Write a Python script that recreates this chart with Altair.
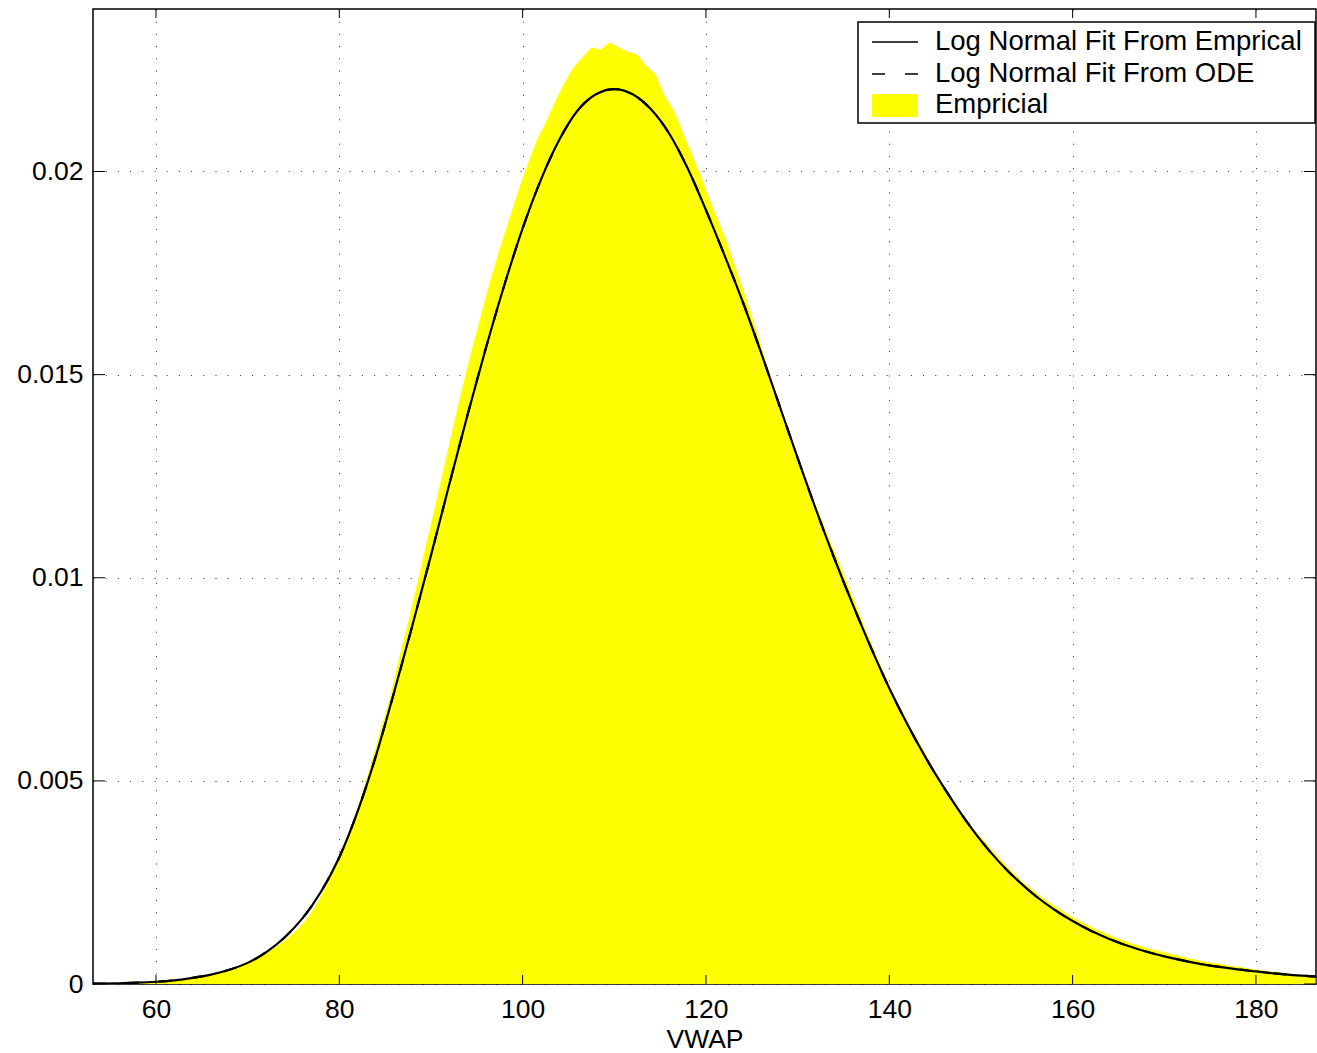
import altair as alt
import pandas as pd

# ---- data ----
fit_x = [53.13, 54, 56, 58, 60, 62, 64, 66, 68, 70, 72, 74, 76, 78, 80, 82, 84, 86, 88, 90,
         92, 94, 96, 98, 100, 102, 104, 106, 108, 110, 112, 114, 116, 118, 120, 122, 124, 126,
         128, 130, 132, 134, 136, 138, 140, 142, 144, 146, 148, 150, 152, 154, 156, 158, 160,
         162, 164, 166, 168, 170, 172, 174, 176, 178, 180, 182, 184, 186, 186.55]
fit_y = [0.000008, 0.00001, 0.000018, 0.000032, 0.000055, 0.00009, 0.00015, 0.00023, 0.00035,
         0.00052, 0.00078, 0.00114, 0.00162, 0.00227, 0.00312, 0.00425, 0.00562, 0.00720,
         0.00885, 0.01055, 0.01230, 0.01402, 0.01566, 0.01720, 0.01860, 0.01980, 0.02078,
         0.02150, 0.02190, 0.02203, 0.02190, 0.02153, 0.02093, 0.02008, 0.01905, 0.01795,
         0.01680, 0.01555, 0.01425, 0.01295, 0.01168, 0.01048, 0.00935, 0.00828, 0.00728,
         0.00638, 0.00556, 0.00482, 0.00414, 0.00353, 0.00300, 0.00255, 0.00216, 0.00183,
         0.00155, 0.00131, 0.00111, 0.00094, 0.00080, 0.00068, 0.00058, 0.00049, 0.00042,
         0.00036, 0.00031, 0.00026, 0.00022, 0.00019, 0.00018]
ode_y = list(fit_y)

hist_start = list(range(53, 187))
hist_y = [0.00001, 0.00001, 0.00001, 0.00002, 0.00003, 0.00004, 0.00005, 0.00006, 0.00008,
          0.00010, 0.00013, 0.00016, 0.00020, 0.00025, 0.00031, 0.00039, 0.00047, 0.00057,
          0.00069, 0.00083, 0.00098, 0.00116, 0.00136, 0.00162, 0.00195, 0.00238, 0.00285,
          0.00340, 0.00400, 0.00468, 0.00545, 0.00625, 0.00702, 0.00800, 0.00890, 0.00985,
          0.01085, 0.01180, 0.01280, 0.01380, 0.01475, 0.01565, 0.01650, 0.01735, 0.01810,
          0.01880, 0.01950, 0.02015, 0.02075, 0.02120, 0.02170, 0.02215, 0.02255, 0.02280,
          0.02305, 0.02300, 0.02318, 0.02305, 0.02295, 0.02288, 0.02260, 0.02240, 0.02185,
          0.02150, 0.02095, 0.02040, 0.01985, 0.01925, 0.01870, 0.01812, 0.01745, 0.01680,
          0.01608, 0.01535, 0.01462, 0.01395, 0.01330, 0.01268, 0.01205, 0.01150, 0.01092,
          0.01038, 0.00982, 0.00925, 0.00868, 0.00812, 0.00760, 0.00710, 0.00666, 0.00624,
          0.00584, 0.00544, 0.00503, 0.00466, 0.00432, 0.00400, 0.00374, 0.00347, 0.00322,
          0.00297, 0.00274, 0.00252, 0.00234, 0.00216, 0.00200, 0.00185, 0.00171, 0.00158,
          0.00147, 0.00135, 0.00126, 0.00116, 0.00108, 0.00100, 0.00093, 0.00086, 0.00081,
          0.00075, 0.00070, 0.00064, 0.00060, 0.00055, 0.00052, 0.00048, 0.00044, 0.00041,
          0.00037, 0.00034, 0.00031, 0.00029, 0.00026, 0.00023, 0.00021, 0.00019]

x_ticks = [60, 80, 100, 120, 140, 160, 180]
y_ticks = [0, 0.005, 0.01, 0.015, 0.02]
legend_labels = ["Log Normal Fit From Emprical", "Log Normal Fit From ODE", "Empricial"]

X_DOMAIN = [53.13, 186.55]
Y_DOMAIN = [0, 0.024]
W, H = 1223, 975
FONT = "Liberation Sans"

# ---- tables ----
hist_df = pd.DataFrame({"x": [s + 0.5 for s in hist_start], "y": hist_y})
fit_df = pd.DataFrame({"x": fit_x, "y": fit_y})
ode_df = pd.DataFrame({"x": fit_x, "y": ode_y})
xt_df = pd.DataFrame({"x": x_ticks})
yt_df = pd.DataFrame({"y": y_ticks})
one = pd.DataFrame({"k": [0]})

xs = alt.Scale(domain=X_DOMAIN, nice=False, zero=False)
ys = alt.Scale(domain=Y_DOMAIN, nice=False)

x_axis = alt.Axis(values=x_ticks, title="VWAP", grid=True, ticks=False, domain=False,
                  labelFontSize=26.5, titleFontSize=26.5, titleFontWeight="normal",
                  labelPadding=12, titlePadding=4, labelFont=FONT, titleFont=FONT,
                  labelColor="black", titleColor="black",
                  gridColor="black", gridDash=[1, 11.2], gridOpacity=0.8, gridWidth=1)
y_axis = alt.Axis(values=y_ticks, title=None, grid=True, ticks=False, domain=False,
                  format="~g", labelFontSize=26.5, labelPadding=10, labelFont=FONT,
                  labelColor="black",
                  gridColor="black", gridDash=[1, 11.2], gridOpacity=0.8, gridWidth=1)

hist = alt.Chart(hist_df).mark_area(interpolate="linear", color="#ffff00", clip=True).encode(
    x=alt.X("x:Q", scale=xs, axis=x_axis),
    y=alt.Y("y:Q", scale=ys, axis=y_axis),
)

fit_line = alt.Chart(fit_df).mark_line(color="black", strokeWidth=2.2, interpolate="monotone",
                                       clip=True).encode(
    x=alt.X("x:Q", scale=xs), y=alt.Y("y:Q", scale=ys))
ode_line = alt.Chart(ode_df).mark_line(color="black", strokeWidth=2.2, strokeDash=[13, 20],
                                       interpolate="monotone", clip=True).encode(
    x=alt.X("x:Q", scale=xs), y=alt.Y("y:Q", scale=ys))

# inward ticks on all four sides
bt = alt.Chart(xt_df).mark_rule(color="black", strokeWidth=1).encode(
    x=alt.X("x:Q", scale=xs), y=alt.value(H), y2=alt.value(H - 9))
tt = alt.Chart(xt_df).mark_rule(color="black", strokeWidth=1).encode(
    x=alt.X("x:Q", scale=xs), y=alt.value(0), y2=alt.value(9))
lt = alt.Chart(yt_df).mark_rule(color="black", strokeWidth=1).encode(
    y=alt.Y("y:Q", scale=ys), x=alt.value(0), x2=alt.value(12))
rt = alt.Chart(yt_df).mark_rule(color="black", strokeWidth=1).encode(
    y=alt.Y("y:Q", scale=ys), x=alt.value(W), x2=alt.value(W - 12))

# legend
lg_box = alt.Chart(one).mark_rect(fill="white", stroke="black", strokeWidth=1.5).encode(
    x=alt.value(765), x2=alt.value(1222), y=alt.value(13), y2=alt.value(114))
lg_l1 = alt.Chart(one).mark_rule(color="black", strokeWidth=1.5).encode(
    x=alt.value(779), x2=alt.value(825), y=alt.value(33))
lg_l2 = alt.Chart(one).mark_rule(color="black", strokeWidth=1.5, strokeDash=[13, 20]).encode(
    x=alt.value(779), x2=alt.value(825), y=alt.value(65))
lg_sw = alt.Chart(one).mark_rect(fill="#ffff00").encode(
    x=alt.value(779), x2=alt.value(825), y=alt.value(85), y2=alt.value(108))
lg_texts = []
for lab, yy in zip(legend_labels, [33, 65, 96]):
    lg_texts.append(alt.Chart(pd.DataFrame({"t": [lab]})).mark_text(
        align="left", baseline="middle", fontSize=27.5, font=FONT, color="black").encode(
        x=alt.value(842), y=alt.value(yy), text="t:N"))

chart = alt.layer(hist, fit_line, ode_line, bt, tt, lt, rt,
                  lg_box, lg_l1, lg_l2, lg_sw, *lg_texts).properties(
    width=W, height=H,
    autosize=alt.AutoSizeParams(type="none"),
    padding={"left": 93, "top": 9, "right": 1, "bottom": 69},
    background="white",
).configure_view(stroke="black", strokeWidth=1.5).resolve_scale(x="shared", y="shared")

chart.save("out.html", embed_options={"renderer": "svg", "actions": False})
